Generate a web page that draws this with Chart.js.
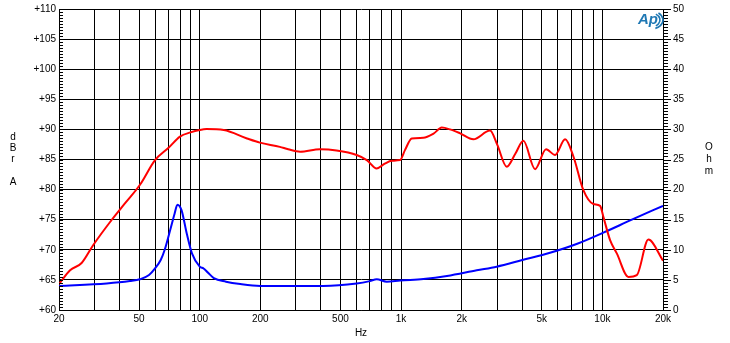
<!DOCTYPE html>
<html><head><meta charset="utf-8">
<script src="https://cdn.jsdelivr.net/npm/chart.js@4"></script>
<style>html,body{margin:0;padding:0;background:#fff;}#wrap{width:730px;height:343px;position:relative;}</style>
</head><body><div id="wrap"><canvas id="c" width="730" height="343"></canvas></div>
<script>
// Frequency response (dBrA, left axis)
const freqResp = [20, 22.7, 25.9, 29.6, 36.5, 42.5, 50.5, 60, 69.8, 79.8, 90, 100, 108, 131.6, 171.7, 199, 250, 275, 315, 396, 478, 602, 676, 757, 830, 899, 989, 1047, 1130, 1291, 1450, 1593, 1751, 1965, 2287, 2767, 3000, 3350, 3700, 4052, 4630, 5250, 5820, 6530, 7180, 8045, 9020, 9740, 10110, 10920, 11790, 13470, 14820, 16920, 20000];
const respDb   = [64.3, 66.6, 67.8, 70.8, 74.95, 77.7, 80.8, 84.9, 86.9, 88.8, 89.5, 89.9, 90.05, 89.9, 88.5, 87.8, 87.1, 86.7, 86.3, 86.7, 86.5, 85.75, 84.9, 83.5, 84.3, 84.8, 84.9, 86.6, 88.5, 88.6, 89.3, 90.3, 90.0, 89.35, 88.35, 89.8, 87.5, 83.8, 86.0, 88.1, 83.4, 86.7, 85.75, 88.35, 85.5, 79.9, 77.6, 77.3, 75.5, 71.6, 69.4, 65.5, 65.8, 71.7, 68.2];
// Impedance (Ohm, right axis)
const freqImp = [20, 34.5, 45, 50.5, 56, 60, 64, 67, 72, 75, 77.5, 81.2, 86.2, 91.5, 100, 104.5, 110, 117.5, 135, 159, 200, 410, 602, 700, 757, 849, 989, 1291, 1690, 2376, 2985, 4000, 5495, 7500, 10110, 14000, 20000];
const impOhm  = [4.0, 4.4, 4.8, 5.1, 5.8, 6.9, 8.3, 10, 13.8, 16, 17.5, 16.6, 12.7, 9.4, 7.2, 6.9, 6.2, 5.3, 4.7, 4.3, 4.0, 4.0, 4.4, 4.8, 5.1, 4.7, 4.9, 5.15, 5.65, 6.6, 7.2, 8.3, 9.5, 11, 12.85, 15, 17.3];
// Axis ticks
const xGrid = [20,30,40,50,60,70,80,90,100,200,300,400,500,600,700,800,900,1000,2000,3000,4000,5000,6000,7000,8000,9000,10000,20000];
const xLabels = {20:'20',50:'50',100:'100',200:'200',500:'500',1000:'1k',2000:'2k',5000:'5k',10000:'10k',20000:'20k'};
const leftTitle = ['d','B','r','','A'];
const rightTitle = ['O','h','m'];

const FONT = 'Liberation Sans, Arial, sans-serif';

const decor = {
  id:'decor',
  afterDraw(chart){
    const ctx = chart.ctx, ca = chart.chartArea;
    const yl = chart.scales.y, yr = chart.scales.y2;
    ctx.save();
    ctx.strokeStyle = '#000'; ctx.lineWidth = 1;
    ctx.beginPath();
    for (let v = 60; v <= 110.001; v += 0.5) {
      const y = Math.round(yl.getPixelForValue(v)) + 0.5;
      ctx.moveTo(ca.left, y); ctx.lineTo(ca.left + 4, y);
    }
    for (let v = 0; v <= 50.001; v += 0.5) {
      const y = Math.round(yr.getPixelForValue(v)) + 0.5;
      const major = Math.abs(v % 5) < 0.01;
      ctx.moveTo(ca.right, y); ctx.lineTo(ca.right + (major ? 8 : 5), y);
    }
    ctx.stroke();
    ctx.fillStyle = '#000';
    ctx.font = '10px ' + FONT;
    ctx.textAlign = 'center'; ctx.textBaseline = 'middle';
    leftTitle.forEach((t,i)=>{ if(t) ctx.fillText(t, 13, 137 + i*11.3); });
    rightTitle.forEach((t,i)=>{ ctx.fillText(t, 709, 147 + i*12); });
    ctx.fillText('Hz', (ca.left+ca.right)/2, 333);
    // logo
    ctx.strokeStyle = '#1f78b4'; ctx.lineWidth = 1.6;
    ctx.beginPath(); ctx.ellipse(651, 20, 9, 7, 0, -1.0, 1.0); ctx.stroke();
    ctx.beginPath(); ctx.ellipse(651, 20, 12, 9, 0, -0.9, 1.2); ctx.stroke();
    ctx.fillStyle = '#1f78b4';
    ctx.font = 'italic bold 15px ' + FONT;
    ctx.fillText('Ap', 648, 20);
    ctx.restore();
  }
};

function noPad(s){ s.paddingTop = 0; s.paddingBottom = 0; }

new Chart(document.getElementById('c'), {
  type:'line',
  data:{ datasets:[
    { data: freqResp.map((f,i)=>({x:f,y:respDb[i]})), yAxisID:'y', borderColor:'#ff0000', borderWidth:2, pointRadius:0, cubicInterpolationMode:'monotone', fill:false },
    { data: freqImp.map((f,i)=>({x:f,y:impOhm[i]})), yAxisID:'y2', borderColor:'#0000ff', borderWidth:2, pointRadius:0, cubicInterpolationMode:'monotone', fill:false }
  ]},
  options:{
    responsive:false, animation:false, events:[],
    layout:{ padding:{ top:9, left:0, right:0, bottom:0 } },
    plugins:{ legend:{display:false}, tooltip:{enabled:false} },
    scales:{
      x:{ type:'logarithmic', min:20, max:20000,
        afterBuildTicks(s){ s.ticks = xGrid.map(v=>({value:v})); },
        afterFit(s){ s.height = 33; s.paddingLeft = 0; s.paddingRight = 0; },
        grid:{ color:'#000', lineWidth:1, drawTicks:false },
        border:{ color:'#000', width:1 },
        ticks:{ autoSkip:false, maxRotation:0, padding:3, color:'#000', font:{family:FONT,size:10},
          callback(v){ return xLabels[v] || ''; } } },
      y:{ position:'left', min:60, max:110,
        afterBuildTicks(s){ const t=[]; for(let v=60; v<=110; v+=5) t.push({value:v}); s.ticks=t; },
        afterFit(s){ s.width = 59; noPad(s); },
        grid:{ color:'#000', lineWidth:1, drawTicks:false },
        border:{ color:'#000', width:1 },
        ticks:{ padding:3, color:'#000', font:{family:FONT,size:10}, callback(v){ return '+' + v; } } },
      y2:{ position:'right', min:0, max:50,
        afterBuildTicks(s){ const t=[]; for(let v=0; v<=50; v+=5) t.push({value:v}); s.ticks=t; },
        afterFit(s){ s.width = 67; noPad(s); },
        grid:{ display:false, drawTicks:false },
        border:{ color:'#000', width:1 },
        ticks:{ padding:10, color:'#000', font:{family:FONT,size:10} } }
    }
  },
  plugins:[decor]
});
</script></body></html>
